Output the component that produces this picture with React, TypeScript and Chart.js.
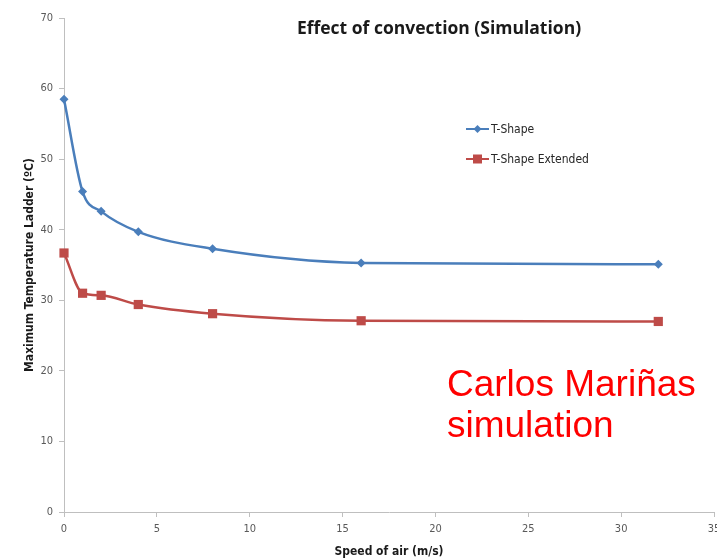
import React, { useEffect, useRef } from "react";
import { Chart, registerables } from "chart.js";

Chart.register(...registerables);

const speeds = [0, 1, 2, 4, 8, 16, 32];
const tShape = [58.5, 45.4, 42.6, 39.7, 37.3, 35.3, 35.1];
const tShapeExtended = [36.7, 31.0, 30.7, 29.4, 28.1, 27.1, 27.0];
const seriesNames = ["T-Shape", "T-Shape Extended"];
const chartTitle = "Effect of convection (Simulation)";
const xTitle = "Speed of air (m/s)";
const yTitle = "Maximum Temperature Ladder (\u00baC)";
const noteLines = ["Carlos Mariñas", "simulation"];

const BLUE = "#4A7EBB";
const RED = "#BE4B48";
const NARROW = '"Liberation Sans Narrow", "DejaVu Sans Condensed", "Open Sans", sans-serif';

const overlayPlugin = {
  id: "overlay",
  afterDraw(chart: any) {
    const ctx = chart.ctx;
    ctx.save();
    // title
    ctx.fillStyle = "#1a1a1a";
    ctx.font = 'bold 17.5px "Open Sans", sans-serif';
    ctx.textAlign = "center";
    ctx.textBaseline = "middle";
    ctx.fillText(chartTitle, 439, 29);
    // legend
    const items = [
      { y: 129, color: BLUE, shape: "diamond" },
      { y: 159, color: RED, shape: "square" },
    ];
    items.forEach((it, i) => {
      ctx.strokeStyle = it.color;
      ctx.lineWidth = 2;
      ctx.beginPath();
      ctx.moveTo(466, it.y);
      ctx.lineTo(489, it.y);
      ctx.stroke();
      ctx.fillStyle = it.color;
      ctx.beginPath();
      if (it.shape === "diamond") {
        ctx.moveTo(477.5, it.y - 4);
        ctx.lineTo(481.5, it.y);
        ctx.lineTo(477.5, it.y + 4);
        ctx.lineTo(473.5, it.y);
        ctx.closePath();
      } else {
        ctx.rect(473, it.y - 4.5, 9, 9);
      }
      ctx.fill();
      ctx.fillStyle = "#262626";
      ctx.font = "12px " + NARROW;
      ctx.textAlign = "left";
      ctx.textBaseline = "middle";
      ctx.fillText(seriesNames[i], 491, it.y + 0.5);
    });
    ctx.restore();
  },
};

export default function App() {
  const ref = useRef<HTMLCanvasElement>(null);
  useEffect(() => {
    if (!ref.current) return;
    const chart = new Chart(ref.current, {
      type: "line",
      data: {
        datasets: [
          {
            label: seriesNames[0],
            data: speeds.map((x, i) => ({ x, y: tShape[i] })),
            borderColor: BLUE,
            backgroundColor: BLUE,
            borderWidth: 2.5,
            cubicInterpolationMode: "monotone",
            pointStyle: "rectRot",
            pointRadius: 4.5,
            pointBorderWidth: 0,
            clip: false,
          },
          {
            label: seriesNames[1],
            data: speeds.map((x, i) => ({ x, y: tShapeExtended[i] })),
            borderColor: RED,
            backgroundColor: RED,
            borderWidth: 2.5,
            cubicInterpolationMode: "monotone",
            pointStyle: "rect",
            pointRadius: 6.5,
            pointBorderWidth: 0,
            clip: false,
          },
        ],
      },
      options: {
        responsive: false,
        animation: false,
        layout: { padding: { left: 0, top: 18, right: 26, bottom: 0 } },
        plugins: {
          legend: { display: false },
          tooltip: { enabled: false },
          title: { display: false },
        },
        scales: {
          x: {
            type: "linear",
            min: 0,
            max: 35,
            ticks: {
              stepSize: 5,
              color: "#595959",
              font: { family: NARROW, size: 11 },
              padding: 6,
              maxRotation: 0,
            },
            grid: {
              display: true,
              drawOnChartArea: false,
              drawTicks: true,
              tickLength: 5,
              color: "#bfbfbf",
            },
            border: { color: "#bfbfbf", width: 1 },
            title: {
              display: true,
              text: xTitle,
              color: "#1a1a1a",
              font: { family: NARROW, size: 12, weight: "bold" },
              padding: { top: 0, bottom: 1 },
            },
            afterFit: (s: any) => {
              s.height = 48;
            },
          },
          y: {
            min: 0,
            max: 70,
            ticks: {
              stepSize: 10,
              color: "#595959",
              font: { family: NARROW, size: 11 },
              padding: 6,
            },
            grid: {
              display: true,
              drawOnChartArea: false,
              drawTicks: true,
              tickLength: 5,
              color: "#bfbfbf",
            },
            border: { color: "#bfbfbf", width: 1 },
            title: {
              display: true,
              text: yTitle,
              color: "#1a1a1a",
              font: { family: NARROW, size: 12, weight: "bold" },
              padding: { top: 23, bottom: 0 },
            },
            afterFit: (s: any) => {
              s.width = 64;
            },
          },
        },
      },
      plugins: [overlayPlugin],
    });
    return () => chart.destroy();
  }, []);

  return (
    <div
      style={{
        position: "fixed",
        left: 0,
        top: 0,
        width: 717,
        height: 560,
        overflow: "hidden",
        background: "#fff",
      }}
    >
      <canvas ref={ref} width={740} height={560} style={{ display: "block" }} />
      <div
        style={{
          position: "absolute",
          left: 447,
          top: 363,
          color: "#ff0000",
          fontFamily: '"Liberation Sans", Arial, sans-serif',
          fontSize: 37,
          lineHeight: "41px",
          whiteSpace: "nowrap",
        }}
      >
        {noteLines[0]}
        <br />
        {noteLines[1]}
      </div>
    </div>
  );
}
